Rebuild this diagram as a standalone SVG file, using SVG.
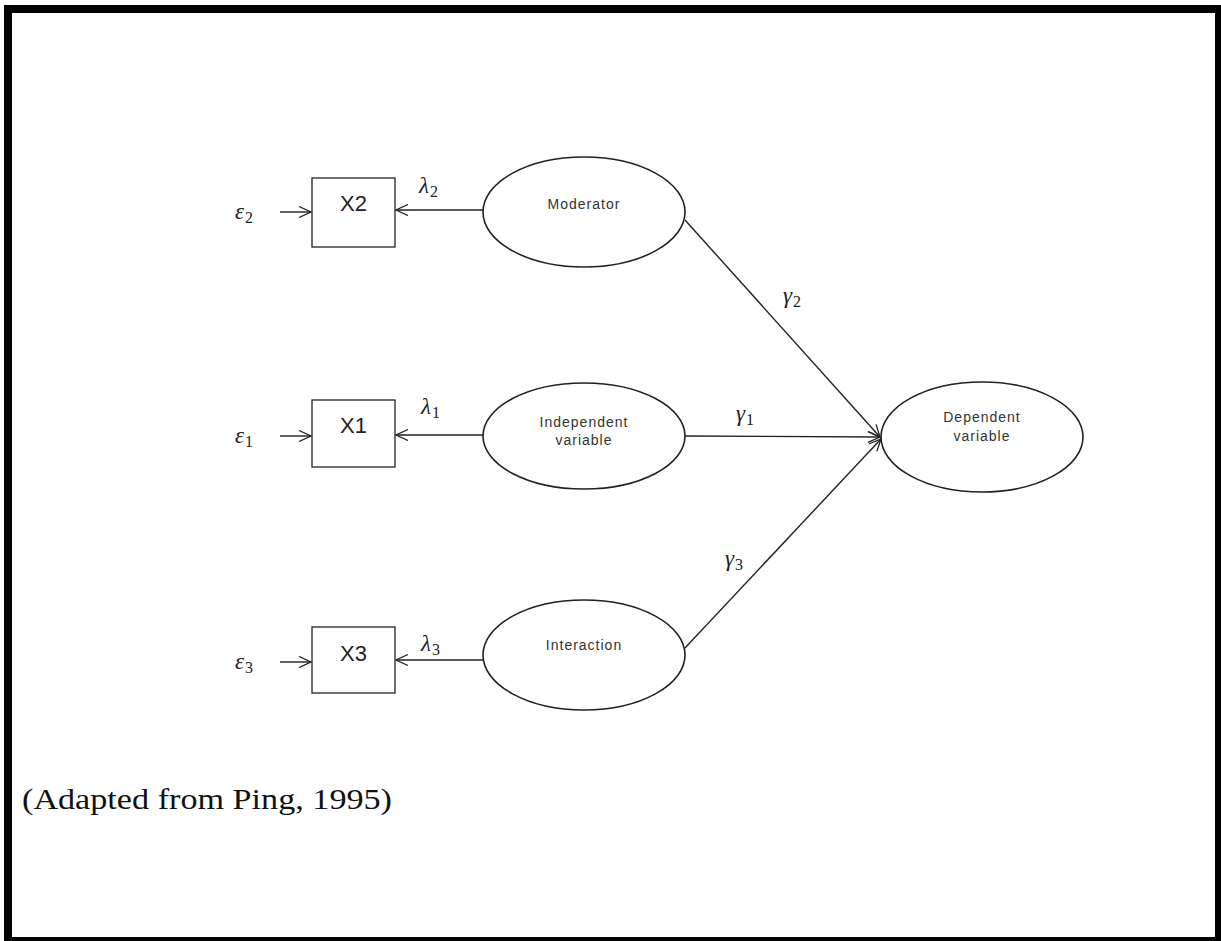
<svg xmlns="http://www.w3.org/2000/svg" width="1221" height="941" viewBox="0 0 1221 941">
  <defs>
    <marker id="open" viewBox="0 0 14 12" refX="13" refY="6" markerWidth="14" markerHeight="12" markerUnits="userSpaceOnUse" orient="auto">
      <path d="M1,0.5 L13,6 L1,11.5" fill="none" stroke="#222" stroke-width="1.3"/>
    </marker>
  </defs>
  <style>
    .frame { fill: #fff; stroke: #000; stroke-width: 8; }
    .box { fill: #fff; stroke: #222; stroke-width: 1.3; }
    .oval { fill: #fff; stroke: #222; stroke-width: 1.6; }
    .edge { fill: none; stroke: #222; stroke-width: 1.4; marker-end: url(#open); }
    .box-label { font-family: "Liberation Sans", Arial, sans-serif; font-size: 22px; fill: #222; text-anchor: middle; }
    .oval-label { font-family: "Liberation Sans", Arial, sans-serif; font-size: 14px; fill: #333; text-anchor: middle; letter-spacing: 1px; }
    .greek { font-family: "Liberation Serif", "Times New Roman", serif; font-style: italic; font-size: 23px; fill: #222; }
    .sub { font-size: 16px; font-style: normal; }
    .note { font-family: "Liberation Serif", "Times New Roman", serif; font-size: 29px; fill: #111; }
  </style>

  <rect class="frame" x="8" y="9" width="1211" height="932"/>

  <!-- indicator boxes -->
  <g id="x2"><rect class="box" x="312" y="178" width="83" height="69"/><text class="box-label" x="353.5" y="211">X2</text></g>
  <g id="x1"><rect class="box" x="312" y="400" width="83" height="67"/><text class="box-label" x="353.5" y="433">X1</text></g>
  <g id="x3"><rect class="box" x="312" y="627" width="83" height="66"/><text class="box-label" x="353.5" y="661">X3</text></g>

  <!-- latent variables -->
  <g id="moderator"><ellipse class="oval" cx="584" cy="212" rx="101" ry="55"/><text class="oval-label" x="584" y="209">Moderator</text></g>
  <g id="independent"><ellipse class="oval" cx="584" cy="436" rx="101" ry="53"/><text class="oval-label" x="584" y="427">Independent</text><text class="oval-label" x="584" y="445">variable</text></g>
  <g id="interaction"><ellipse class="oval" cx="584" cy="655" rx="101" ry="55"/><text class="oval-label" x="584" y="650">Interaction</text></g>
  <g id="dependent"><ellipse class="oval" cx="982" cy="437" rx="101" ry="55"/><text class="oval-label" x="982" y="422">Dependent</text><text class="oval-label" x="982" y="441">variable</text></g>

  <!-- paths -->
  <g id="connectors">
    <line class="edge" x1="280" y1="212" x2="311" y2="212"/>
    <line class="edge" x1="280" y1="436" x2="311" y2="436"/>
    <line class="edge" x1="280" y1="662" x2="311" y2="662"/>
    <line class="edge" x1="483" y1="210" x2="396" y2="210"/>
    <line class="edge" x1="483" y1="435" x2="396" y2="435"/>
    <line class="edge" x1="483" y1="660" x2="396" y2="660"/>
    <line class="edge" x1="685" y1="220" x2="880" y2="437"/>
    <line class="edge" x1="685" y1="436" x2="880" y2="437"/>
    <line class="edge" x1="685" y1="648" x2="881" y2="439"/>
  </g>

  <!-- path coefficients and error terms -->
  <g id="labels">
    <text class="greek" x="235" y="219">ε<tspan class="sub" dx="1" dy="4">2</tspan></text>
    <text class="greek" x="235" y="443">ε<tspan class="sub" dx="1" dy="4">1</tspan></text>
    <text class="greek" x="235" y="669">ε<tspan class="sub" dx="1" dy="4">3</tspan></text>
    <text class="greek" x="419" y="193">λ<tspan class="sub" dx="1" dy="4">2</tspan></text>
    <text class="greek" x="421" y="414">λ<tspan class="sub" dx="1" dy="4">1</tspan></text>
    <text class="greek" x="421" y="651">λ<tspan class="sub" dx="1" dy="4">3</tspan></text>
    <text class="greek" x="783" y="303">γ<tspan class="sub" dx="1" dy="4">2</tspan></text>
    <text class="greek" x="736" y="421">γ<tspan class="sub" dx="1" dy="4">1</tspan></text>
    <text class="greek" x="725" y="566">γ<tspan class="sub" dx="1" dy="4">3</tspan></text>
  </g>

  <text class="note" x="22" y="809" textLength="370" lengthAdjust="spacingAndGlyphs">(Adapted from Ping, 1995)</text>
</svg>
